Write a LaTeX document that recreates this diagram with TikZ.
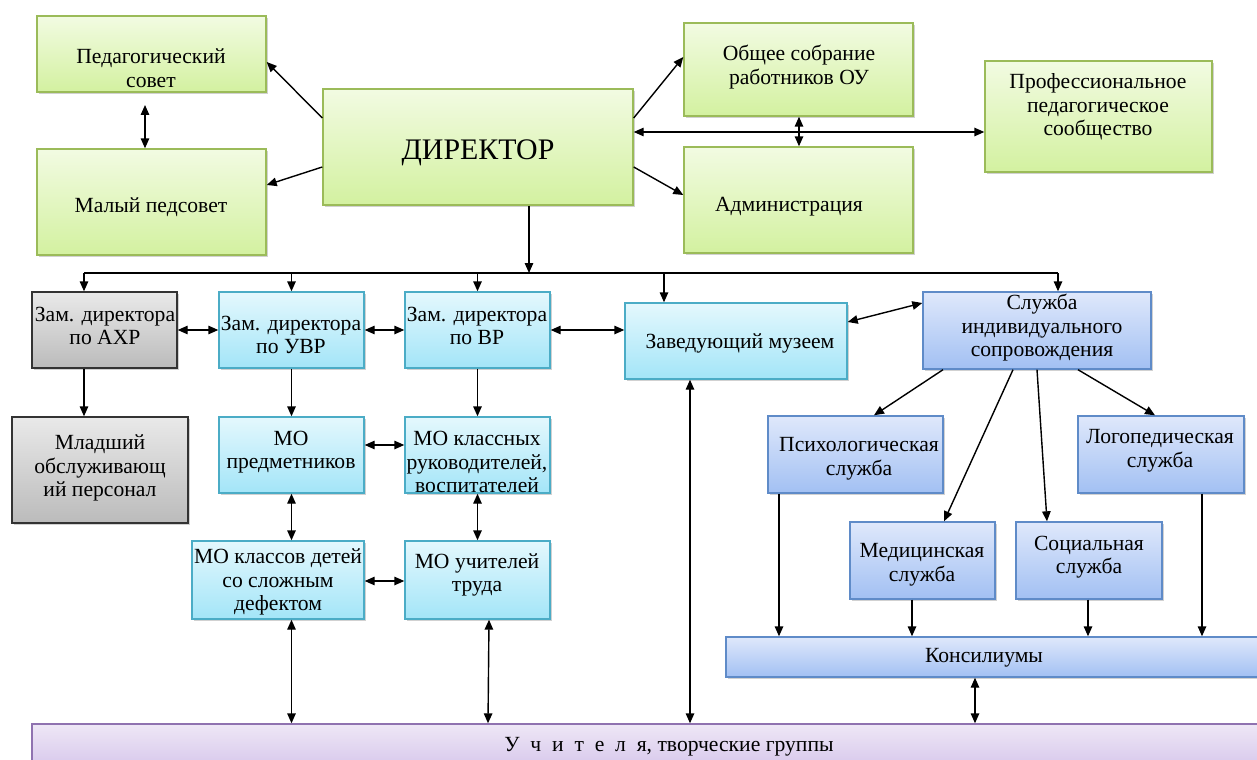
\documentclass[tikz,border=0pt]{standalone}
\usepackage{fontspec}
\setmainfont{Liberation Serif}
\newfontfamily\orgfont{Liberation Serif}
\usetikzlibrary{arrows.meta,fit,shadows}

\definecolor{grtop}{HTML}{F2FBE2}
\definecolor{grbot}{HTML}{D3F1A0}
\definecolor{grline}{HTML}{9BBB59}
\definecolor{cytop}{HTML}{E4F8FD}
\definecolor{cybot}{HTML}{A3E5F8}
\definecolor{cyline}{HTML}{4BACC6}
\definecolor{bltop}{HTML}{DFE8FB}
\definecolor{blbot}{HTML}{A2C0F3}
\definecolor{blline}{HTML}{5F8BC8}
\definecolor{gytop}{HTML}{E9E9E9}
\definecolor{gybot}{HTML}{BBBBBB}
\definecolor{puttop}{HTML}{EEE7F6}
\definecolor{pubot}{HTML}{D3C2EA}
\definecolor{puline}{HTML}{8F72B0}

\begin{document}
\begin{tikzpicture}[
    x=0.02cm, y=-0.02cm,
    box/.style={draw, line width=0.8pt, inner sep=0pt,
        drop shadow={shadow xshift=1.1pt, shadow yshift=-1.1pt, opacity=0.3, fill=black!60}},
    grbox/.style={box, draw=grline, top color=grtop, bottom color=grbot},
    cybox/.style={box, draw=cyline, top color=cytop, bottom color=cybot},
    blbox/.style={box, draw=blline, top color=bltop, bottom color=blbot},
    gybox/.style={box, draw=black!80, top color=gytop, bottom color=gybot},
    pubox/.style={box, draw=puline, top color=puttop, bottom color=pubot},
    txt/.style={align=center, inner sep=0pt, font=\orgfont\fontsize{12.3}{13.4}\selectfont},
    arr/.style={-{Triangle[length=2mm,width=1.7mm]}, line width=0.8pt},
    darr/.style={{Triangle[length=2mm,width=1.7mm]}-{Triangle[length=2mm,width=1.7mm]}, line width=0.8pt}
]
    \useasboundingbox (0,0) rectangle (1257,760);
    \clip (0,0) rectangle (1257,760);

    % top level
    \node[grbox, fit={(37,16) (266,92)}] (ped) {};
    \node[txt] (pedT) at (151,68) {Педагогический\\совет};
    \node[grbox, fit={(37,149) (266,255)}] (maly) {};
    \node[txt] (malyT) at (151,207) {Малый педсовет};
    \node[grbox, fit={(323,89) (633,205)}] (dir) {};
    \node[txt, font=\orgfont\fontsize{17}{19}\selectfont] (dirT) at (478,153) {ДИРЕКТОР};
    \node[grbox, fit={(684,23) (913,116)}] (obsh) {};
    \node[txt] (obshT) at (799,67) {Общее собрание\\работников ОУ};
    \node[grbox, fit={(684,147) (913,253)}] (adm) {};
    \node[txt] (admT) at (789,207) {Администрация};
    \node[grbox, fit={(985,61) (1212,172)}] (prof) {};
    \node[txt] (profT) at (1098,107) {Профессиональное\\педагогическое\\сообщество};

    % deputies
    \node[gybox, fit={(32,292) (177,368)}] (akhr) {};
    \node[txt] (akhrT) at (105,326) {Зам. директора\\по АХР};
    \node[gybox, fit={(12,417) (188,523)}] (mlad) {};
    \node[txt] (mladT) at (100,468) {Младший\\обслуживающ\\ий персонал};
    \node[cybox, fit={(219,292) (364,368)}] (uvr) {};
    \node[txt] (uvrT) at (291,335) {Зам. директора\\по УВР};
    \node[cybox, fit={(405,292) (550,368)}] (vr) {};
    \node[txt] (vrT) at (477,326) {Зам. директора\\по ВР};
    \node[cybox, fit={(625,303) (847,379)}] (muz) {};
    \node[txt] (muzT) at (740,343) {Заведующий музеем};

    % methodical unions
    \node[cybox, fit={(219,417) (364,493)}] (mopr) {};
    \node[txt] (moprT) at (291,452) {МО\\предметников};
    \node[cybox, fit={(405,417) (550,493)}] (mokl) {};
    \node[txt] (moklT) at (477,462) {МО классных\\руководителей,\\воспитателей};
    \node[cybox, fit={(192,541) (364,619)}] (modet) {};
    \node[txt] (modetT) at (278,582) {МО классов детей\\со сложным\\дефектом};
    \node[cybox, fit={(405,541) (550,619)}] (motr) {};
    \node[txt] (motrT) at (477,575) {МО учителей\\труда};

    % support service
    \node[blbox, fit={(923,292) (1151,369)}] (sluzh) {};
    \node[txt] (sluzhT) at (1042,328) {Служба\\индивидуального\\сопровождения};
    \node[blbox, fit={(768,416) (943,493)}] (psy) {};
    \node[txt] (psyT) at (859,459) {Психологическая\\служба};
    \node[blbox, fit={(1078,416) (1244,493)}] (logo) {};
    \node[txt] (logoT) at (1160,451) {Логопедическая\\служба};
    \node[blbox, fit={(850,522) (995,599)}] (med) {};
    \node[txt] (medT) at (922,565) {Медицинская\\служба};
    \node[blbox, fit={(1016,522) (1162,599)}] (soc) {};
    \node[txt] (socT) at (1089,557) {Социальная\\служба};
    \node[blbox, fit={(726,637) (1265,677)}] (kons) {};
    \node[txt] (konsT) at (984,658) {Консилиумы};

    \node[pubox, fit={(32,724) (1265,775)}] (uch) {};
    \node[txt] (uchT) at (669,747) {У~~ч~~и~~т~~е~~л~~я, творческие группы};

    % arrows, top
    \draw[arr] (dir.west |- 0,118) -- (ped.east |- 0,62);
    \draw[arr] (dir.west |- 0,167) -- (maly.east |- 0,185);
    \draw[darr, shorten <=7] (ped.south -| 145,0) -- (maly.north -| 145,0);
    \draw[arr] (dir.east |- 0,118) -- (obsh.west |- 0,57);
    \draw[arr] (dir.east |- 0,167) -- (adm.west |- 0,195);
    \draw[darr] (dir.east |- 0,132) -- (prof.west |- 0,132);
    \draw[darr] (obsh.south -| 799,0) -- (adm.north -| 799,0);

    % bus
    \coordinate (busL) at (84,273);
    \coordinate (busR) at (1058,273);
    \draw[line width=0.8pt] (busL) -- (busR);
    \draw[arr] (dir.south -| 529,0) -- (busL -| 529,0);
    \draw[arr] (busL) -- (akhr.north -| busL);
    \draw[arr] (busL -| uvr.north) -- (uvr.north);
    \draw[arr] (busL -| vr.north) -- (vr.north);
    \draw[arr] (busL -| 664,0) -- (muz.north -| 664,0);
    \draw[arr] (busR) -- (sluzh.north -| busR);

    % deputies row
    \draw[darr] (akhr.east) -- (uvr.west);
    \draw[darr] (uvr.east) -- (vr.west);
    \draw[darr] (vr.east) -- (muz.west |- vr.east);
    \draw[darr] (muz.east |- 0,322) -- (sluzh.west |- 0,303);
    \draw[arr] (akhr.south -| busL) -- (mlad.north -| busL);
    \draw[arr] (uvr.south) -- (mopr.north);
    \draw[arr] (vr.south) -- (mokl.north);

    % methodical unions
    \draw[darr] (mopr.east |- 0,445) -- (mokl.west |- 0,445);
    \draw[darr] (mopr.south) -- (modet.north -| mopr.south);
    \draw[darr] (mokl.south) -- (motr.north);
    \draw[darr] (modet.east |- 0,581) -- (motr.west |- 0,581);
    \draw[darr] (modet.south -| mopr.south) -- (uch.north -| mopr.south);
    \draw[darr] (motr.south -| 489,0) -- (uch.north -| 488,0);
    \draw[darr] (muz.south -| 690,0) -- (uch.north -| 690,0);

    % support service
    \draw[arr] (sluzh.south -| 943,0) -- (psy.north -| 874,0);
    \draw[arr] (sluzh.south -| 1013,0) -- (med.north -| 944,0);
    \draw[arr] (sluzh.south -| 1037,0) -- (soc.north -| 1047,0);
    \draw[arr] (sluzh.south -| 1078,0) -- (logo.north -| 1155,0);
    \draw[arr] (psy.south -| 779,0) -- (kons.north -| 779,0);
    \draw[arr] (med.south -| 912,0) -- (kons.north -| 912,0);
    \draw[arr] (soc.south -| 1088,0) -- (kons.north -| 1088,0);
    \draw[arr] (logo.south -| 1202,0) -- (kons.north -| 1202,0);
    \draw[darr] (kons.south -| 975,0) -- (uch.north -| 975,0);
\end{tikzpicture}
\end{document}
